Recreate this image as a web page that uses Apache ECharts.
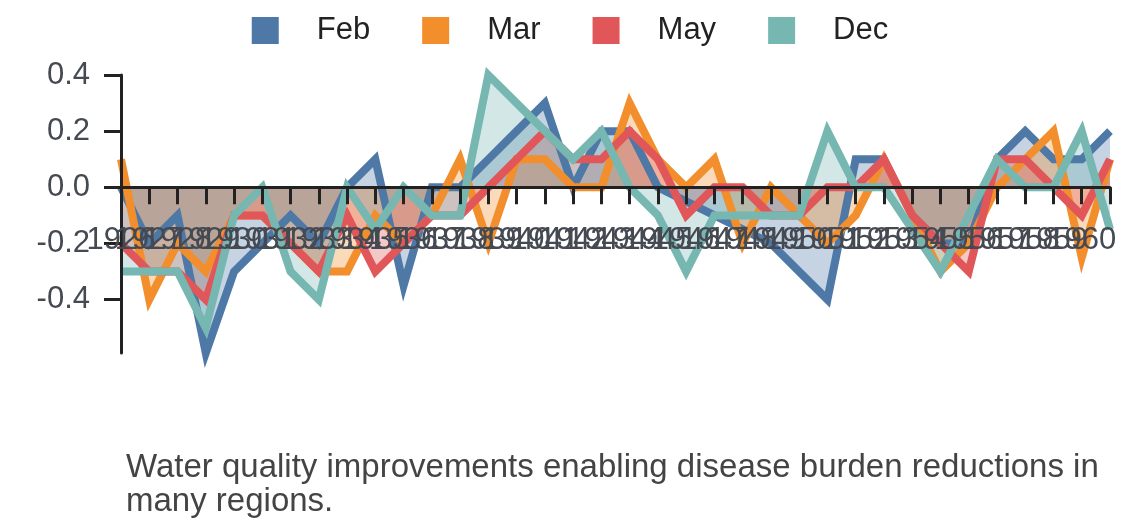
<!DOCTYPE html>
<html>
<head>
<meta charset="utf-8">
<title>Water quality</title>
<script src="https://cdn.jsdelivr.net/npm/echarts@6/dist/echarts.min.js"></script>
<style>
    html, body { margin: 0; padding: 0; background: #fff; }
    #chart { width: 1140px; height: 528px; }
</style>
</head>
<body>
<div id="chart"></div>
<script>
// x categories (years)
var years = [];
for (var y = 1926; y <= 1961; y++) {
    years.push(String(y));
}

var seriesNames = ['Feb', 'Mar', 'May', 'Dec'];
var colors = ['#4e79a7', '#f28e2b', '#e15759', '#76b7b2'];
var yTicks = [-0.4, -0.2, 0, 0.2, 0.4];

// values
var feb = [0, -0.2, -0.1, -0.59, -0.3, -0.2, -0.1, -0.2, 0, 0.1,
    -0.35, 0, 0, 0.1, 0.2, 0.3, 0, 0.2, 0.2, 0,
    -0.05, -0.1, -0.15, -0.2, -0.3, -0.4, 0.1, 0.1, -0.1, -0.2,
    -0.2, 0.1, 0.2, 0.1, 0.1, 0.2];
var mar = [0.1, -0.4, -0.2, -0.3, -0.1, -0.1, -0.2, -0.3, -0.3, -0.1,
    -0.2, -0.1, 0.1, -0.2, 0.1, 0.1, 0, 0, 0.3, 0.1,
    0, 0.1, -0.2, 0, -0.1, -0.2, -0.1, 0.1, -0.1, -0.3,
    -0.2, 0, 0.1, 0.2, -0.25, 0.1];
var may = [-0.2, -0.3, -0.3, -0.4, -0.1, -0.1, -0.2, -0.3, -0.1, -0.3,
    -0.2, -0.1, -0.1, 0, 0.1, 0.2, 0.1, 0.1, 0.2, 0.1,
    -0.1, 0, 0, -0.1, -0.1, 0, 0, 0.1, -0.1, -0.2,
    -0.3, 0.1, 0.1, 0, -0.1, 0.1];
var dec = [-0.3, -0.3, -0.3, -0.5, -0.1, 0, -0.3, -0.4, 0, -0.15,
    0, -0.1, -0.1, 0.4, 0.3, 0.2, 0.1, 0.2, 0, -0.1,
    -0.3, -0.1, -0.1, -0.1, -0.1, 0.2, 0, 0, -0.15, -0.3,
    -0.1, 0.1, 0, 0, 0.2, -0.15];

var titleText = 'Water quality improvements enabling disease burden reductions in many regions.';
var fontName = '"Liberation Sans", Arial, sans-serif';

var values = [feb, mar, may, dec];
var series = [];
for (var i = 0; i < values.length; i++) {
    series.push({
        name: seriesNames[i],
        type: 'line',
        data: values[i],
        symbol: 'none',
        clip: false,
        lineStyle: { width: 8, color: colors[i], join: 'miter', miterLimit: 10 },
        itemStyle: { color: colors[i] },
        areaStyle: { color: colors[i], opacity: 0.33 }
    });
}

var myChart = echarts.init(document.getElementById('chart'));

var option = {
    animation: false,
    textStyle: { fontFamily: fontName },
    title: {
        text: titleText,
        left: 121,
        top: 446,
        textStyle: {
            fontSize: 33,
            fontWeight: 'normal',
            color: '#444',
            width: 1010,
            overflow: 'break',
            lineHeight: 34
        }
    },
    legend: {
        top: 10,
        left: 'center',
        icon: 'rect',
        itemWidth: 27,
        itemHeight: 27,
        itemGap: 52,
        data: seriesNames,
        textStyle: {
            fontSize: 31,
            color: '#222',
            padding: [0, 0, 0, 33]
        }
    },
    grid: {
        left: 121,
        right: 30,
        top: 75,
        bottom: 175
    },
    xAxis: {
        type: 'category',
        data: years,
        z: 10,
        boundaryGap: false,
        axisLine: { onZero: true, lineStyle: { color: '#222', width: 3 } },
        axisTick: { show: true, interval: 0, length: 17, lineStyle: { width: 3, color: '#222' } },
        axisLabel: {
            interval: 0,
            fontSize: 31,
            color: '#454a52',
            margin: -128,
            // the last tick carries no label in the picture
            formatter: function (v, idx) { return idx === years.length - 1 ? '' : v; }
        },
        splitLine: { show: false }
    },
    yAxis: {
        type: 'value',
        min: 'dataMin',
        max: 0.4,
        z: 10,
        axisLine: { show: true, lineStyle: { color: '#222', width: 3 } },
        axisTick: { show: true, length: 17, customValues: yTicks, lineStyle: { width: 3, color: '#222' } },
        axisLabel: {
            fontSize: 31,
            color: '#454a52',
            margin: 31,
            customValues: yTicks,
            formatter: function (v) { return v.toFixed(1); }
        },
        splitLine: { show: false }
    },
    series: series
};

myChart.setOption(option);
</script>
</body>
</html>
